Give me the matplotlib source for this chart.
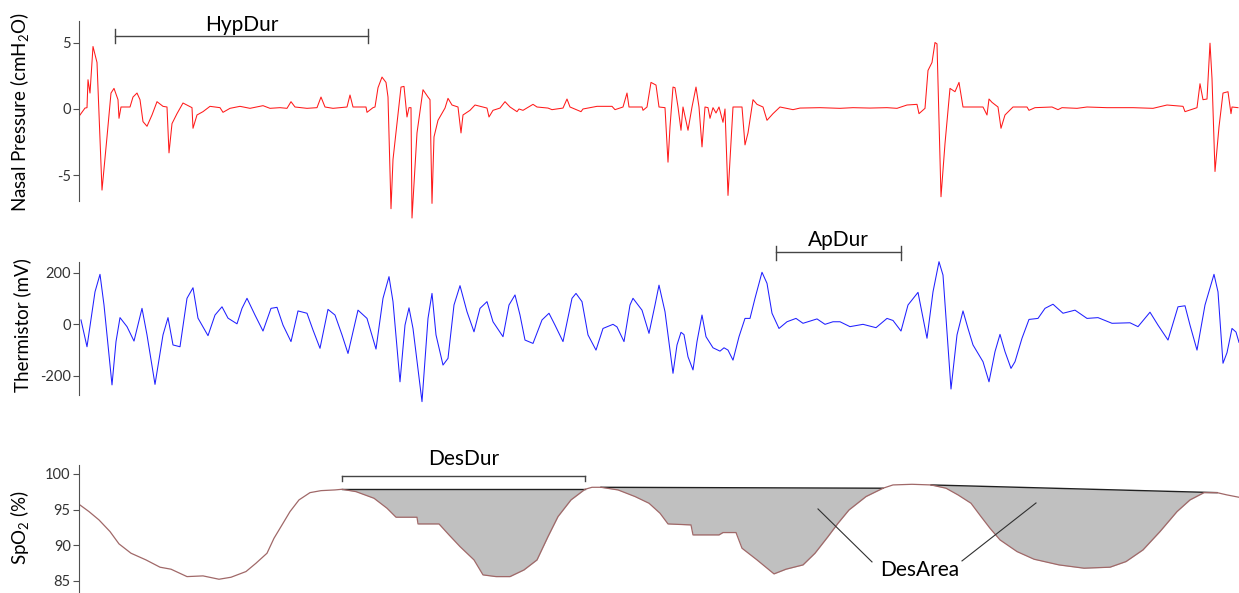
import numpy as np
import matplotlib
matplotlib.use("Agg")
import matplotlib.pyplot as plt

plt.rcParams["font.family"] = ["Lato", "DejaVu Sans"]
plt.rcParams["mathtext.fontset"] = "custom"
plt.rcParams["mathtext.rm"] = "Lato"
plt.rcParams["axes.unicode_minus"] = False

# Traces, (time s, value)
nasal = [
  (0.1, -0.45), (0.6, 0.07), (0.8, 0.1), (0.9, 2.2), (1.1, 1.2), (1.4, 4.7), (1.8, 3.5),
  (2.3, -6.1), (2.8, -2.1), (3.2, 1.2), (3.5, 1.55), (3.9, 0.7), (4.0, -0.7), (4.2, 0.15),
  (5.1, 0.15), (5.4, 0.9), (5.8, 1.2), (6.1, 0.7), (6.4, -0.95), (6.8, -1.3), (7.3, -0.45),
  (7.8, 0.55), (8.4, 0.2), (8.8, 0.15), (9.0, -3.3), (9.3, -1.1), (9.8, -0.35), (10.4, 0.45),
  (11.3, 0.1), (11.4, -1.45), (11.8, -0.45), (12.4, -0.2), (13.1, 0.2), (14.1, 0.1),
  (14.4, -0.25), (15.1, 0.05), (16.1, 0.2), (17.1, 0.05), (18.4, 0.25), (19.1, 0.05),
  (20.1, 0.1), (20.8, 0.05), (21.2, 0.55), (21.6, 0.15), (22.8, 0.05), (23.8, 0.1),
  (24.2, 0.9), (24.6, 0.15), (25.4, 0.05), (26.8, 0.15), (27.1, 1.05), (27.4, 0.15),
  (28.7, 0.15), (28.8, -0.25), (29.4, 0.1), (29.6, 0.15), (29.9, 1.6), (30.3, 2.4),
  (30.7, 2.0), (30.9, 0.9), (31.2, -7.5), (31.4, -3.8), (31.8, -1.1), (32.2, 1.65),
  (32.5, 1.7), (32.8, -0.6), (33.0, 0.1), (33.2, 0.1), (33.3, -8.2), (33.8, -1.8),
  (34.4, 1.45), (34.9, 0.9), (35.1, 0.7), (35.3, -7.1), (35.5, -2.1), (35.9, -0.85),
  (36.6, 0.07), (36.9, 0.8), (37.3, 0.3), (37.9, 0.15), (38.2, -1.8), (38.4, -0.45),
  (39.1, -0.1), (39.6, 0.3), (40.8, 0.07), (41.0, -0.6), (41.4, -0.1), (42.1, 0.07),
  (42.6, 0.55), (43.1, 0.15), (43.8, -0.2), (44.0, 0.0), (44.4, -0.1), (45.4, 0.35),
  (45.8, 0.15), (46.9, 0.07), (47.3, -0.05), (48.4, 0.07), (48.8, 0.75), (49.1, 0.15),
  (50.2, -0.2), (50.4, 0.0), (51.8, 0.2), (53.3, 0.2), (53.6, -0.05), (54.4, 0.15),
  (54.8, 1.2), (55.0, 0.15), (56.3, 0.15), (56.4, -0.1), (56.8, 0.15), (57.2, 2.0),
  (57.7, 1.8), (58.0, 0.15), (58.6, 0.1), (58.9, -4.0), (59.1, -1.35), (59.4, 1.65),
  (59.6, 1.6), (59.9, 0.15), (60.2, -1.6), (60.4, 0.15), (60.9, -1.6), (61.3, 0.15),
  (61.7, 1.65), (62.0, 0.15), (62.3, -2.85), (62.6, 0.15), (62.9, 0.1), (63.1, -0.7),
  (63.4, 0.1), (63.7, -0.3), (64.0, 0.15), (64.4, -1.0), (64.6, 0.0), (64.9, -6.5),
  (65.4, 0.15), (66.3, 0.15), (66.6, -2.7), (66.9, -1.8), (67.4, 0.7), (67.8, 0.35),
  (68.4, 0.15), (68.8, -0.85), (69.4, -0.35), (69.9, 0.0), (70.1, 0.15), (71.4, -0.05),
  (72.1, 0.07), (74.1, 0.1), (76.1, 0.05), (77.4, 0.1), (79.1, 0.07), (80.8, 0.1),
  (81.8, 0.05), (82.8, 0.3), (83.8, 0.35), (84.0, -0.35), (84.6, 0.05), (84.9, 2.9),
  (85.3, 3.5), (85.6, 5.0), (85.8, 4.9), (86.2, -6.6), (86.6, -2.6), (87.1, 1.55),
  (87.6, 1.3), (88.0, 2.0), (88.4, 0.15), (90.4, 0.15), (90.8, -0.45), (91.0, 0.75),
  (91.3, 0.5), (91.9, 0.15), (92.2, -1.45), (92.6, -0.45), (93.4, 0.15), (94.8, 0.15),
  (95.0, -0.1), (95.6, 0.1), (97.3, 0.15), (97.9, -0.05), (98.3, 0.1), (99.8, 0.05),
  (100.8, 0.15), (102.8, 0.1), (105.4, 0.1), (107.4, 0.05), (108.8, 0.3), (110.4, 0.2),
  (110.6, -0.2), (111.8, 0.1), (112.1, 1.9), (112.4, 0.7), (112.8, 0.75), (113.1, 4.95),
  (113.3, 2.3), (113.6, -4.7), (114.0, -1.35), (114.4, 1.2), (114.9, 1.3), (115.2, -0.35),
  (115.3, 0.15), (115.9, 0.1),
]

therm = [
  (0.2, 17), (0.8, -87), (1.6, 126), (2.1, 194), (2.5, 75), (3.3, -235), (3.7, -67),
  (4.1, 26), (4.8, -9), (5.5, -65), (6.3, 62), (6.8, -41), (7.6, -233), (8.4, -41),
  (8.9, 26), (9.4, -80), (10.1, -87), (10.8, 101), (11.4, 142), (11.9, 24), (12.9, -44),
  (13.6, 36), (14.3, 68), (14.9, 24), (15.8, 2), (16.3, 62), (16.8, 101), (17.6, 36),
  (18.4, -26), (19.2, 62), (19.8, 66), (20.4, -3), (21.2, -67), (21.9, 52), (22.8, 43),
  (23.4, -22), (24.1, -93), (24.9, 58), (25.6, 36), (26.3, -41), (26.9, -113), (27.9, 55),
  (28.8, 23), (29.7, -96), (30.4, 101), (31.0, 185), (31.4, 88), (32.1, -223), (32.6, -3),
  (33.0, 64), (33.4, -16), (34.3, -300), (34.9, 23), (35.3, 120), (35.7, -41), (36.4, -158),
  (36.9, -132), (37.5, 75), (38.1, 150), (38.8, 49), (39.5, -29), (40.1, 62), (40.8, 88),
  (41.4, 10), (42.4, -48), (43.0, 75), (43.6, 114), (44.1, 36), (44.6, -61), (45.4, -74),
  (46.3, 17), (47.0, 43), (47.6, -3), (48.4, -67), (49.3, 101), (49.7, 120), (50.3, 88),
  (50.9, -41), (51.7, -100), (52.4, -16), (53.4, 0), (53.8, -10), (54.5, -67), (55.1, 75),
  (55.4, 101), (56.3, 55), (57.0, -35), (57.6, 75), (58.0, 152), (58.6, 49), (58.9, -41),
  (59.4, -190), (59.8, -80), (60.2, -31), (60.5, -40), (60.9, -126), (61.4, -177),
  (61.8, -67), (62.3, 36), (62.7, -48), (63.4, -91), (64.1, -104), (64.5, -91),
  (64.9, -100), (65.4, -139), (66.0, -48), (66.6, 23), (67.1, 23), (67.6, 101), (68.3, 202),
  (68.8, 159), (69.3, 43), (70.0, -16), (70.8, 10), (71.7, 23), (72.4, 4), (73.8, 21),
  (74.6, 0), (75.4, 10), (76.1, 10), (77.1, -9), (78.4, 0), (79.7, -13), (80.8, 23),
  (81.4, 15), (82.2, -26), (82.9, 75), (83.9, 124), (84.8, -54), (85.4, 126), (86.0, 243),
  (86.4, 191), (87.2, -251), (87.8, -41), (88.4, 52), (88.9, -16), (89.4, -80),
  (90.4, -145), (91.0, -223), (91.6, -106), (92.1, -39), (92.6, -106), (93.2, -171),
  (93.6, -145), (94.3, -54), (95.0, 19), (95.9, 23), (96.6, 62), (97.4, 78), (98.4, 43),
  (99.6, 55), (100.8, 23), (101.9, 26), (103.3, 4), (105.1, 6), (105.9, -9), (107.1, 47),
  (107.9, -3), (108.9, -61), (109.9, 68), (110.6, 72), (111.1, -3), (111.8, -100),
  (112.6, 75), (113.5, 194), (113.9, 126), (114.4, -151), (114.8, -110), (115.3, -16),
  (115.7, -30), (116.0, -70),
]

spo2 = [
  (0.0, 95.75), (1.0, 94.72), (2.0, 93.55), (3.1, 91.92), (4.0, 90.19), (5.2, 88.88),
  (6.7, 87.94), (8.1, 86.92), (9.2, 86.64), (10.8, 85.6), (12.4, 85.7), (14.0, 85.23),
  (15.2, 85.51), (16.7, 86.31), (17.7, 87.48), (18.8, 88.88), (19.5, 90.98), (20.4, 93.08),
  (21.1, 94.72), (22.0, 96.36), (23.1, 97.38), (24.2, 97.66), (25.6, 97.76), (26.3, 97.85),
  (27.7, 97.52), (29.5, 96.59), (30.8, 95.19), (31.7, 93.93), (33.8, 93.93), (33.9, 92.99),
  (36.0, 92.99), (37.0, 91.45), (38.1, 89.81), (39.5, 87.94), (40.4, 85.84), (41.7, 85.6),
  (43.1, 85.6), (44.5, 86.54), (45.8, 87.94), (46.9, 91.21), (47.9, 94.02), (49.2, 96.36),
  (50.6, 97.85), (51.3, 98.13), (52.2, 98.13), (53.9, 97.76), (55.6, 96.83), (57.0, 95.89),
  (58.1, 94.49), (58.9, 92.99), (61.2, 92.85), (61.4, 91.45), (64.0, 91.45), (64.4, 91.78),
  (65.7, 91.78), (66.3, 89.58), (67.8, 87.94), (69.5, 85.98), (70.7, 86.64), (72.4, 87.24),
  (73.6, 88.88), (74.9, 91.21), (75.9, 93.08), (77.0, 94.95), (78.7, 96.83), (80.4, 98.0),
  (81.4, 98.46), (83.3, 98.55), (85.2, 98.46), (86.7, 98.0), (87.9, 97.06), (89.2, 95.89),
  (90.2, 94.02), (91.1, 92.38), (92.1, 90.75), (93.8, 89.11), (95.5, 88.04), (98.0, 87.24),
  (100.5, 86.78), (103.1, 86.92), (104.7, 87.71), (106.4, 89.35), (108.1, 91.92),
  (109.8, 94.72), (111.1, 96.36), (112.5, 97.38), (113.8, 97.38), (114.8, 97.06),
  (116.0, 96.73),
]

# desaturation events: start/end time and the pre/post SpO2 baseline
des_start = [26.3, 52.2, 85.2]
des_end = [50.6, 80.4, 113.8]
des_base0 = [97.85, 98.13, 98.46]
des_base1 = [97.85, 98.0, 97.38]

hyp_dur = (3.6, 28.9)
ap_dur = (69.7, 82.2)

nasal_ticks = [-5, 0, 5]
therm_ticks = [-200, 0, 200]
spo2_ticks = [85, 90, 95, 100]

W, H = 1239, 593
fig = plt.figure(figsize=(W / 100, H / 100), dpi=100)

def px_axes(top, bottom, left=79):
  return fig.add_axes([left / W, 1 - bottom / H, 1 - left / W, (bottom - top) / H])

def style(ax, ticks, bounds, ylim, label, label_y):
  for s in ["top", "right", "bottom"]:
    ax.spines[s].set_visible(False)
  ax.spines["left"].set_color("#505050")
  ax.spines["left"].set_bounds(*bounds)
  ax.set_xlim(0, 116)
  ax.set_ylim(*ylim)
  ax.set_xticks([])
  ax.set_yticks(ticks)
  ax.tick_params(axis="y", length=4, color="#505050", labelsize=10.5,
                 labelcolor="#333333", pad=2)
  ax.set_ylabel(label, fontsize=13.5)
  ax.yaxis.set_label_coords(-0.041, label_y)
  ax.patch.set_alpha(0)

def bracket(ax, t0, t1, y, up, down, text, text_y):
  kw = dict(color="#454545", lw=1, clip_on=False)
  ax.plot([t0, t1], [y, y], **kw)
  for t in (t0, t1):
    ax.plot([t, t], [y - down, y + up], **kw)
  ax.text((t0 + t1) / 2, text_y, text, ha="center", va="baseline", fontsize=15)

# Nasal pressure
ax1 = px_axes(15, 222)
t, v = np.array(nasal).T
ax1.plot(t, v, color="#ff1a1a", lw=0.75, clip_on=False)
style(ax1, nasal_ticks, (-6.9, 6.6), (-8.5, 7.07), "Nasal Pressure (cmH$\\mathregular{_2}$O)", 0.53)
bracket(ax1, *hyp_dur, 5.49, 0.5, 0.55, "HypDur", 5.85)

# Thermistor
ax2 = px_axes(255, 405)
t, v = np.array(therm).T
ax2.plot(t, v, color="#2020ff", lw=0.75, clip_on=False)
style(ax2, therm_ticks, (-274, 240), (-313, 269), "Thermistor (mV)", 0.533)
bracket(ax2, *ap_dur, 282, 23, 33, "ApDur", 304)

# SpO2
ax3 = px_axes(455, 593)
t, v = np.array(spo2).T
for t0, t1, b0, b1 in zip(des_start, des_end, des_base0, des_base1):
  m = (t >= t0) & (t <= t1)
  base = np.interp(t[m], [t0, t1], [b0, b1])
  ax3.fill_between(t[m], v[m], base, color="#c0c0c0", lw=0)
  ax3.plot([t0, t1], [b0, b1], color="#202020", lw=1)
ax3.plot(t, v, color="#a06868", lw=0.9)
style(ax3, spo2_ticks, (83.3, 101.26), (83.3, 102.66), "SpO$\\mathregular{_2}$ (%)", 0.478)
bracket(ax3, des_start[0], des_end[0], 99.65, 0, 0.6, "DesDur", 101.26)

# DesArea pointers
ax3.plot([73.9, 79.3], [95.09, 87.66], color="#303030", lw=0.8)
ax3.plot([95.7, 88.3], [95.93, 87.8], color="#303030", lw=0.8)
ax3.text(84.05, 85.7, "DesArea", ha="center", va="baseline", fontsize=15)

fig.savefig("out.png", dpi=100)
